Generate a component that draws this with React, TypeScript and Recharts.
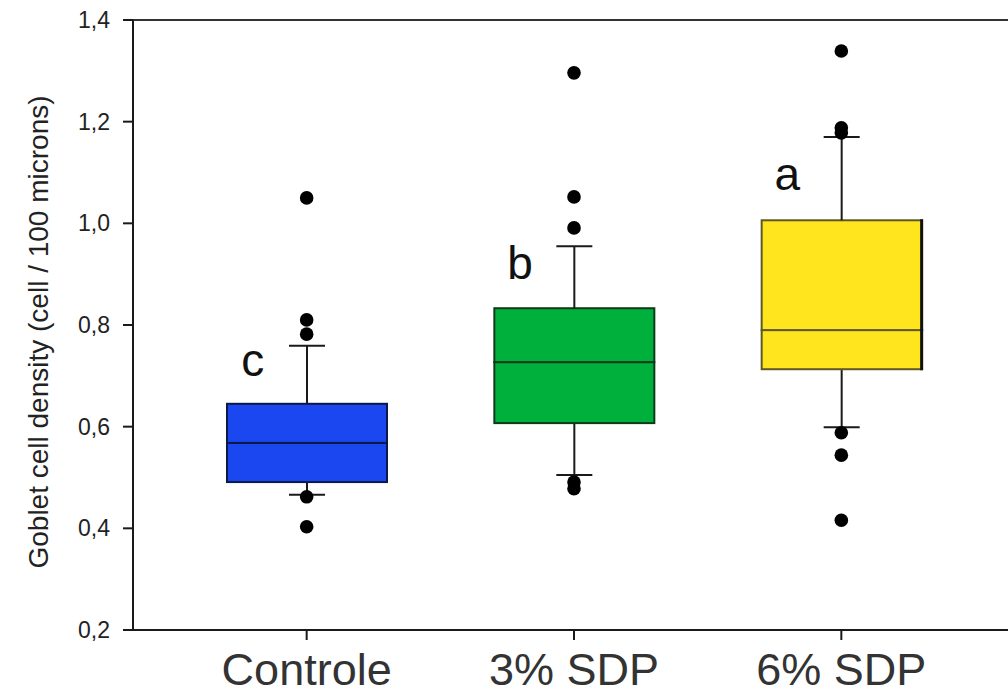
import { ComposedChart, Bar, Scatter, XAxis, YAxis, ReferenceLine } from "recharts";

const categories = ["Controle", "3% SDP", "6% SDP"];
const whiskerLow = [0.466, 0.505, 0.599];
const q1 = [0.491, 0.607, 0.713];
const median = [0.568, 0.727, 0.79];
const q3 = [0.645, 0.833, 1.006];
const whiskerHigh = [0.759, 0.955, 1.17];
const outliers = [
  [1.05, 0.81, 0.782, 0.462, 0.403],
  [1.296, 1.052, 0.991, 0.491, 0.478],
  [1.339, 1.188, 1.178, 0.588, 0.544, 0.416],
];
const letters = ["c", "b", "a"];
const letterValue = [0.7, 0.89, 1.066];
const yTicks = [0.2, 0.4, 0.6, 0.8, 1.0, 1.2, 1.4];

const fills = ["#1a47f0", "#00b03c", "#fee51e"];
const edges = ["#0c1a4a", "#0d3b1a", "#5e5822"];
const font = "'Liberation Sans', Arial, sans-serif";
const ink = "#1a1a1a";

// stacked segments: invisible base, lower whisker, lower box half, upper box half, upper whisker
const boxData = categories.map((name, i) => ({
  name,
  base: whiskerLow[i],
  lowWhisker: q1[i] - whiskerLow[i],
  lowBox: median[i] - q1[i],
  highBox: q3[i] - median[i],
  highWhisker: whiskerHigh[i] - q3[i],
}));

const outlierData = categories.flatMap((name, i) => outliers[i].map((value) => ({ name, value })));
const letterData = categories.map((name, i) => ({ name, value: letterValue[i], letter: letters[i] }));

const makeWhisker = (capAt: "top" | "bottom") => (props: any) => {
  const { x, y, width, height } = props;
  const cx = x + width / 2;
  const capY = capAt === "top" ? y : y + height;
  return (
    <g>
      <line x1={cx} x2={cx} y1={y} y2={y + height} stroke={ink} strokeWidth={2} />
      <line x1={cx - 18} x2={cx + 18} y1={capY} y2={capY} stroke={ink} strokeWidth={2} />
    </g>
  );
};

const BoxHalf = (props: any) => {
  const { x, y, width, height, index } = props;
  return (
    <g>
      <rect x={x} y={y} width={width} height={height} fill={fills[index]} stroke={edges[index]} strokeWidth={2} />
      {index === 2 && (
        <line x1={x + width} x2={x + width} y1={y - 1} y2={y + height + 1} stroke="#111" strokeWidth={3} />
      )}
    </g>
  );
};

const Dot = (props: any) => <circle cx={props.cx} cy={props.cy} r={6.8} fill="#000" />;

const Letter = (props: any) => (
  <text x={props.cx - 54} y={props.cy} textAnchor="middle" fontSize={46} fontFamily={font} fill="#111">
    {props.payload.letter}
  </text>
);

const YTitle = (props: any) => {
  const vb = props.viewBox;
  const x = vb.x + 38;
  const y = vb.y + vb.height / 2 + 7;
  return (
    <text
      x={x}
      y={y}
      transform={`rotate(-90, ${x}, ${y})`}
      textAnchor="middle"
      dominantBaseline="central"
      fontSize={28}
      fontFamily={font}
      fill="#222"
    >
      Goblet cell density (cell / 100 microns)
    </text>
  );
};

export default function App() {
  return (
    <div style={{ position: "absolute", left: 0, top: 0, width: 1008, height: 697, overflow: "hidden", background: "#fff" }}>
      <ComposedChart width={1030} height={697} data={boxData} margin={{ top: 20, right: 15, bottom: 0, left: 0 }}>
        <XAxis
          dataKey="name"
          type="category"
          allowDuplicatedCategory={false}
          padding={{ left: 40, right: 40 }}
          height={67}
          interval={0}
          tickSize={10}
          tickMargin={13}
          axisLine={{ stroke: ink, strokeWidth: 2 }}
          tickLine={{ stroke: ink, strokeWidth: 2 }}
          tick={{ fontSize: 45, fill: "#333", fontFamily: font }}
        />
        <YAxis
          type="number"
          domain={[0.2, 1.4]}
          allowDataOverflow
          ticks={yTicks}
          width={133}
          tickSize={10}
          tickMargin={13}
          tickFormatter={(v: number) => v.toFixed(1).replace(".", ",")}
          axisLine={{ stroke: ink, strokeWidth: 2 }}
          tickLine={{ stroke: ink, strokeWidth: 2 }}
          tick={{ fontSize: 23, fill: "#222", fontFamily: font }}
          label={YTitle}
        />
        <ReferenceLine y={1.4} stroke="#333" strokeWidth={2} />
        <Bar dataKey="base" stackId="box" barSize={160} shape={() => <g />} isAnimationActive={false} />
        <Bar dataKey="lowWhisker" stackId="box" barSize={160} shape={makeWhisker("bottom")} isAnimationActive={false} />
        <Bar dataKey="lowBox" stackId="box" barSize={160} shape={BoxHalf} isAnimationActive={false} />
        <Bar dataKey="highBox" stackId="box" barSize={160} shape={BoxHalf} isAnimationActive={false} />
        <Bar dataKey="highWhisker" stackId="box" barSize={160} shape={makeWhisker("top")} isAnimationActive={false} />
        <Scatter data={outlierData} dataKey="value" shape={Dot} isAnimationActive={false} />
        <Scatter data={letterData} dataKey="value" shape={Letter} isAnimationActive={false} />
      </ComposedChart>
    </div>
  );
}
